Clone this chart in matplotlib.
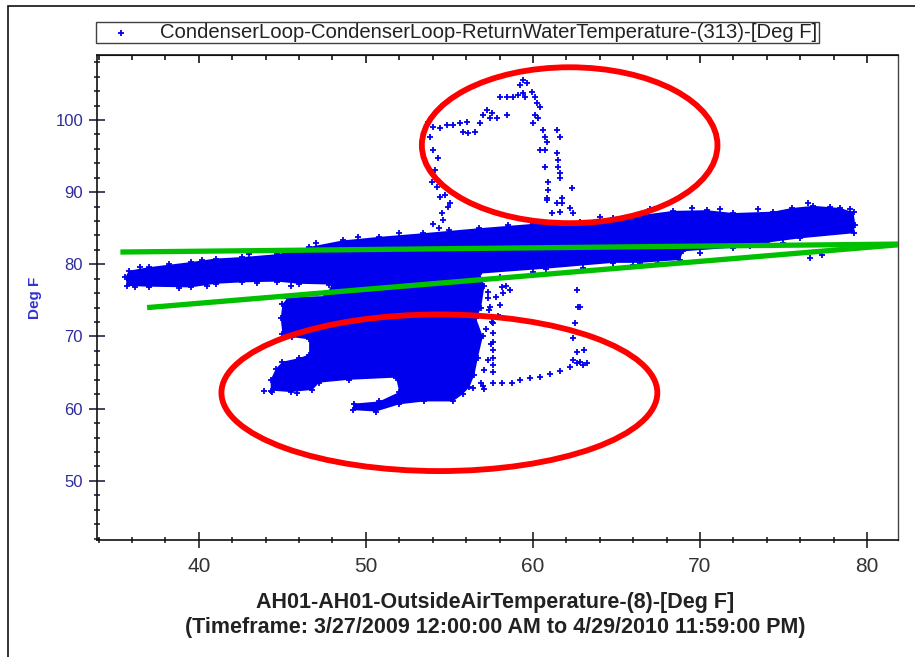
import matplotlib
matplotlib.use('Agg')
import matplotlib.pyplot as plt
from matplotlib.patches import Ellipse, Rectangle
from matplotlib.ticker import MultipleLocator

plt.rcParams['font.family'] = ['Liberation Sans', 'DejaVu Sans']

# ---------------- data ----------------
series_label = 'CondenserLoop-CondenserLoop-ReturnWaterTemperature-(313)-[Deg F]'
x_title = ('AH01-AH01-OutsideAirTemperature-(8)-[Deg F]\n'
           '(Timeframe: 3/27/2009 12:00:00 AM to 4/29/2010 11:59:00 PM)')
y_title = 'Deg F'

# dense main band of points (outline of the saturated region)
band_x = [35.6, 35.8, 37.0, 39.5, 41.0, 42.6, 44.7, 46.6, 48.6, 50.8, 53.4, 56.8,
          60.0, 62.8, 64.8, 66.4, 68.4, 70.4, 72.0, 74.4, 75.5, 76.8, 78.4, 79.2,
          79.3,
          79.2, 76.0, 74.0, 72.0, 69.0, 68.8, 66.4, 64.8, 60.8, 56.8, 53.0, 48.5,
          47.8, 46.0, 44.7, 42.6, 41.0, 39.5, 37.0, 35.7]
band_y = [78.2, 79.1, 79.6, 80.3, 80.8, 81.0, 81.4, 82.4, 83.3, 83.8, 84.3, 85.0,
          85.6, 85.9, 86.4, 86.8, 87.4, 87.5, 87.1, 87.3, 87.8, 88.1, 87.8, 87.2,
          85.5,
          84.3, 83.6, 83.0, 82.3, 81.8, 80.6, 80.2, 80.2, 79.4, 78.7, 78.3, 77.5,
          77.2, 77.3, 77.6, 77.5, 77.3, 76.8, 76.9, 77.0]

# dense lower cloud of points (outline)
cloud_x = [45.3, 46.2, 47.6, 48.0, 50.5, 56.8, 57.1, 56.9, 56.6, 57.0, 56.7, 56.5,
           56.2, 55.8, 55.2, 53.5, 52.0, 50.6, 49.2, 49.3, 50.8, 52.0, 51.8, 49.0,
           47.2, 46.8, 45.5, 44.3, 44.3, 44.6, 45.0, 46.0, 46.6, 46.6, 45.6, 45.0,
           44.9, 45.0]
cloud_y = [75.3, 75.5, 75.6, 77.4, 78.6, 79.0, 77.0, 74.0, 72.5, 70.0, 67.0, 64.7,
           63.0, 62.0, 61.0, 61.0, 60.6, 59.6, 59.8, 60.7, 61.0, 62.3, 64.3, 64.0,
           63.6, 62.6, 62.3, 62.5, 64.0, 65.5, 66.5, 67.0, 67.5, 69.6, 69.9, 70.4,
           72.5, 74.5]

# upper excursion (points above the band)
up_x = [54.0, 54.4, 54.63, 54.53, 54.93, 55.03, 54.43, 54.73, 54.23, 53.93, 54.13,
        54.33, 54.03, 53.83, 53.73, 54.03, 54.43, 54.83, 55.23, 55.63, 56.03, 55.83,
        56.13, 56.53, 56.83, 57.03, 57.23, 57.53, 57.83, 57.43, 58.43, 58.02, 58.43,
        58.82, 59.12, 59.42, 59.22, 59.42, 59.62, 59.92, 60.12, 59.52, 60.22, 60.42,
        60.12, 60.32, 60.02, 60.62, 60.72, 60.82, 60.42, 60.72, 60.72, 60.92, 60.92,
        60.82, 61.12, 61.22, 61.42, 61.62, 61.42, 61.52, 61.52, 61.62, 61.62, 62.32,
        61.72, 61.42, 61.62, 62.22, 62.42, 61.72, 60.84]
up_y = [85.6, 85.0, 86.15, 87.07, 87.99, 88.46, 89.38, 89.61, 90.76, 91.46, 93.07,
        94.69, 95.84, 97.69, 99.77, 99.08, 98.85, 99.31, 99.31, 99.54, 99.77, 98.39,
        98.16, 98.39, 99.54, 100.69, 101.38, 100.92, 100.23, 100.23, 100.69, 103.23,
        103.15, 103.23, 103.46, 103.69, 104.85, 105.54, 105.08, 103.92, 103.23,
        103.23, 102.31, 101.84, 100.69, 100.23, 99.54, 98.62, 97.69, 97.0, 95.84,
        95.84, 93.53, 91.45, 90.3, 89.15, 87.07, 85.0, 98.62, 97.69, 95.38, 94.46,
        93.53, 92.61, 91.92, 90.54, 89.15, 88.46, 87.31, 87.77, 87.07, 88.46, 88.9]

# lower-right excursion and loose points right of the lower cloud
low_x = [56.43, 57.03, 57.63, 58.12, 58.72, 59.22, 59.82, 60.42, 61.02, 61.62, 62.22,
         62.62, 63.02, 63.22, 62.42, 62.82, 62.63, 62.81, 62.72, 62.51, 62.42, 62.62,
         63.06, 57.6, 57.6, 57.6, 57.6, 57.6, 57.6, 57.6, 57.43, 58.12, 58.62, 58.22,
         57.53, 58.02, 57.33, 57.3, 57.8, 58.4, 57.4, 57.9, 57.2, 57.5, 57.3, 57.1,
         58.0, 56.9, 57.1]
low_y = [62.84, 63.07, 63.53, 63.53, 63.53, 63.99, 64.22, 64.45, 64.82, 65.28, 65.74,
         66.3, 66.07, 66.3, 66.76, 66.53, 76.45, 74.1, 74.14, 71.84, 69.76, 67.91,
         68.14, 71.9, 70.5, 69.3, 68.1, 67.0, 66.1, 65.1, 74.14, 76.91, 76.45, 75.99,
         72.07, 72.76, 75.3, 76.2, 75.5, 77.0, 73.6, 72.8, 71.0, 69.0, 66.8, 65.4,
         74.4, 63.6, 62.7]

# scattered points along the edges of the band
edge_x = [36.5, 38.2, 40.2, 43.0, 45.2, 47.0, 49.5, 52.0, 55.0, 58.5, 64.0, 67.0,
          69.5, 71.2, 73.5, 76.5, 77.8, 79.0, 36.2, 38.8, 40.5, 43.5, 45.5, 58.0,
          60.0, 63.0, 66.0, 67.5, 70.0, 73.0, 76.6, 77.3, 75.0, 43.9, 44.4, 45.9]
edge_y = [79.6, 80.1, 80.6, 81.4, 81.8, 83.0, 83.8, 84.3, 84.8, 85.4, 86.6, 87.6,
          87.8, 87.6, 87.7, 88.5, 88.0, 87.6, 76.8, 76.7, 77.0, 77.4, 77.0, 78.3,
          78.9, 79.5, 79.9, 80.2, 81.6, 82.5, 80.84, 81.3, 83.0, 62.4, 62.3, 62.1]

# green trend lines and red ellipses (annotations)
green_upper_x = [35.3, 81.86]
green_upper_y = [81.7, 82.8]
green_lower_x = [36.9, 81.86]
green_lower_y = [74.0, 82.7]
ellipse_upper = (62.2, 96.5, 17.7, 21.6)   # center x, center y, width, height
ellipse_lower = (54.4, 62.2, 26.1, 21.7)

# ---------------- drawing ----------------
BLUE = '#0000ee'
W, H = 915, 657
fig = plt.figure(figsize=(W / 100, H / 100), dpi=100)
fig.patch.set_facecolor('white')
ax = fig.add_axes([97 / W, 1 - 540 / H, (898 - 97) / W, (540 - 55) / H])
ax.set_xlim(33.9, 81.86)
ax.set_ylim(41.8, 109.0)

ax.fill(band_x, band_y, color=BLUE, lw=0, zorder=2)
ax.fill(cloud_x, cloud_y, color=BLUE, lw=0, zorder=2)
mk = dict(marker='+', s=24, linewidths=1.3, color=BLUE, zorder=3)
pts = ax.scatter(up_x, up_y, label=series_label, **mk)
ax.scatter(low_x, low_y, **mk)
ax.scatter(edge_x, edge_y, **mk)
ax.scatter(band_x, band_y, **mk)
ax.scatter(cloud_x, cloud_y, **mk)

ax.plot(green_upper_x, green_upper_y, color='#00c000', lw=3.8,
        solid_capstyle='butt', zorder=4, clip_on=False)
ax.plot(green_lower_x, green_lower_y, color='#00c000', lw=3.8,
        solid_capstyle='butt', zorder=4, clip_on=False)
for cx, cy, w, h in (ellipse_upper, ellipse_lower):
    ax.add_patch(Ellipse((cx, cy), w, h, fill=False, ec='#ff0000', lw=4.2, zorder=5))

# axes styling
for s in ('left', 'bottom', 'top'):
    ax.spines[s].set_color('#111111')
    ax.spines[s].set_linewidth(1.2)
ax.spines['right'].set_color('#444444')
ax.spines['right'].set_linewidth(1.0)

ax.xaxis.set_major_locator(MultipleLocator(10))
ax.xaxis.set_minor_locator(MultipleLocator(2))
ax.yaxis.set_major_locator(MultipleLocator(10))
ax.yaxis.set_minor_locator(MultipleLocator(2))
ax.tick_params(axis='x', which='major', direction='inout', length=12, width=1.1,
               labelsize=15, labelcolor='#333333', pad=6, color='#111111')
ax.tick_params(axis='x', which='minor', direction='inout', length=5, width=1.1,
               color='#111111')
ax.tick_params(axis='y', which='major', direction='inout', length=12, width=1.1,
               labelsize=12, labelcolor='#2d2d9c', pad=4, color='#111133')
ax.tick_params(axis='y', which='minor', direction='inout', length=5, width=1.1,
               color='#111133')

top = ax.secondary_xaxis('top')
top.xaxis.set_major_locator(MultipleLocator(10))
top.xaxis.set_minor_locator(MultipleLocator(2))
top.tick_params(which='major', direction='in', length=6, width=1.1, labeltop=False)
top.tick_params(which='minor', direction='in', length=3.5, width=1.1)
top.spines['top'].set_color('#111111')

ax.set_xlabel(x_title, fontsize=15.5, fontweight='bold', color='#222222',
              linespacing=1.25)
ax.xaxis.set_label_coords(0.497, (540 - 592) / 485)
ax.xaxis.label.set_verticalalignment('top')
ax.set_ylabel(y_title, fontsize=11, fontweight='bold', color='#3333cc')
ax.yaxis.set_label_coords((35 - 97) / 801, 0.5)
ax.yaxis.label.set_verticalalignment('center')

leg = ax.legend(handles=[pts], loc='upper left',
                bbox_to_anchor=(96 / W, 1 - 22 / H), bbox_transform=fig.transFigure,
                borderaxespad=0, fontsize=14.6, frameon=True, fancybox=False,
                edgecolor='#111111', borderpad=0.06, handlelength=2.3,
                handletextpad=0.8, scatterpoints=1, markerscale=0.8)
leg.get_frame().set_linewidth(1.0)
for t in leg.get_texts():
    t.set_color('#222222')

# outer frame of the exported picture
fig.add_artist(Rectangle((8 / W, -0.05), 1.2, 1.05 - 6 / H, transform=fig.transFigure,
                         fill=False, ec='#111111', lw=1.2))

fig.savefig('out.png', dpi=100, facecolor='white')
